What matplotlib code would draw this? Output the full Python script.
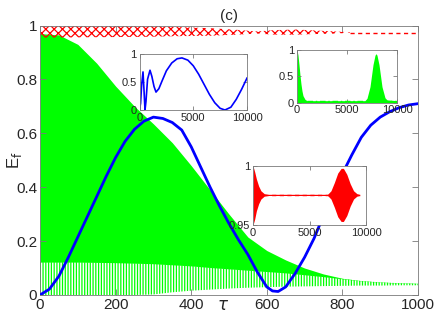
import numpy as np
import matplotlib
matplotlib.use("Agg")
import matplotlib.pyplot as plt

plt.rcParams['font.family'] = ['Liberation Sans', 'DejaVu Sans']
plt.rcParams['hatch.linewidth'] = 0.9

# ---------------- data ----------------
# main: blue curve
tau_blue = [0, 25, 50, 75, 100, 125, 150, 175, 200, 225, 250, 275, 300, 325, 350, 375,
            400, 425, 450, 475, 500, 525, 550, 575, 600, 615, 630, 650, 675, 700, 725,
            750, 775, 800, 825, 850, 875, 900, 925, 950, 975, 1000]
E_blue = [0.0, 0.022, 0.07, 0.14, 0.215, 0.29, 0.365, 0.44, 0.51, 0.57, 0.615, 0.645,
          0.66, 0.655, 0.64, 0.612, 0.55, 0.475, 0.40, 0.33, 0.265, 0.205, 0.15, 0.085,
          0.03, 0.015, 0.013, 0.03, 0.08, 0.14, 0.21, 0.295, 0.375, 0.45, 0.52, 0.585,
          0.63, 0.66, 0.68, 0.695, 0.705, 0.71]

# main: green oscillation envelopes
tau_green = [0, 50, 100, 150, 200, 250, 300, 350, 400, 450, 500, 550, 600, 650, 700,
             750, 800, 850, 900, 950, 1000]
green_top = [0.97, 0.965, 0.93, 0.86, 0.775, 0.70, 0.635, 0.565, 0.48, 0.39, 0.30, 0.215,
             0.165, 0.13, 0.10, 0.078, 0.062, 0.053, 0.048, 0.045, 0.043]
green_mid = [0.122, 0.122, 0.122, 0.121, 0.12, 0.118, 0.116, 0.112, 0.108, 0.102, 0.097,
             0.092, 0.087, 0.082, 0.075, 0.068, 0.060, 0.052, 0.047, 0.044, 0.042]
green_bot = [0.0, 0.0, 0.0, 0.0, 0.0, 0.0, 0.002, 0.01, 0.016, 0.02, 0.024, 0.027, 0.029,
             0.031, 0.032, 0.033, 0.034, 0.035, 0.035, 0.036, 0.036]

# main: red oscillation envelope near 1
tau_red = [0, 280, 350, 450, 520, 575, 620, 680, 720, 780, 820]
red_top = [1.0, 1.0, 0.995, 0.99, 0.984, 0.978, 0.983, 0.985, 0.982, 0.978, 0.975]
red_bot = [0.955, 0.958, 0.96, 0.962, 0.966, 0.970, 0.966, 0.966, 0.968, 0.970, 0.973]
tau_red_dash = [820, 1000]
red_dash = [0.974, 0.974]

# inset 1 (blue)
t_in1 = [0, 100, 200, 326, 420, 512, 600, 750, 977, 1150, 1350, 1535, 1800, 2100, 2500,
         3000, 3500, 3950, 4500, 5000, 5500, 6000, 6500, 7000, 7500, 7950, 8500, 9000,
         9500, 10000]
E_in1 = [0.0, 0.12, 0.45, 0.68, 0.35, 0.0, 0.15, 0.55, 0.71, 0.6, 0.42, 0.32, 0.38, 0.52,
         0.70, 0.84, 0.915, 0.93, 0.89, 0.79, 0.64, 0.46, 0.28, 0.13, 0.03, 0.0, 0.05,
         0.19, 0.37, 0.57]

# inset 2 (green)
t_in2 = [0, 100, 200, 300, 400, 500, 600, 800, 1000, 6800, 7000, 7300, 7600, 7800, 7900,
         8000, 8200, 8500, 8800, 9000, 10000]
E_in2_top = [1.0, 0.9, 0.72, 0.52, 0.35, 0.22, 0.13, 0.06, 0.035, 0.035, 0.08, 0.3, 0.72,
             0.9, 0.93, 0.9, 0.72, 0.3, 0.09, 0.05, 0.035]
in2_base = [0.035, 0.035]
t_in2_base = [1000, 10000]

# inset 3 (red)
t_in3 = [0, 150, 300, 500, 700, 1000, 1300, 6600, 6900, 7200, 7500, 7800, 8000, 8300,
         8600, 8900, 9200, 9400]
E_in3_top = [1.0, 0.995, 0.989, 0.983, 0.979, 0.9765, 0.976, 0.976, 0.979, 0.986, 0.994,
             0.998, 0.998, 0.993, 0.985, 0.979, 0.9765, 0.976]
E_in3_bot = [0.95, 0.955, 0.962, 0.968, 0.972, 0.9745, 0.975, 0.975, 0.972, 0.965, 0.957,
             0.953, 0.953, 0.958, 0.966, 0.972, 0.9745, 0.975]
t_in3_dash = [1000, 9700]
E_in3_dash = [0.9755, 0.9755]

xticks_main = [0, 200, 400, 600, 800, 1000]
yticks_main = [0, 0.2, 0.4, 0.6, 0.8, 1]

# ---------------- styling ----------------
GREEN = '#00ff00'
SPINE = '#7a7a7a'
TXT = '#262626'

fig = plt.figure(figsize=(4.36, 3.27), dpi=100)
ax = fig.add_axes([40 / 436, 1 - 295 / 327, 378 / 436, 269.5 / 327])


def style(a, fs):
    for s in a.spines.values():
        s.set_color(SPINE)
        s.set_linewidth(0.6)
    a.tick_params(direction='in', top=True, right=True, length=3, width=0.6,
                  color=SPINE, labelcolor=TXT, labelsize=fs, pad=2)


# green band
ax.fill_between(tau_green, green_mid, green_top, color=GREEN, linewidth=0, zorder=1)
ax.fill_between(tau_green, green_bot, green_mid, facecolor='none', edgecolor=GREEN,
                hatch='||||||', linewidth=0, zorder=1)
# red band
ax.fill_between(tau_red, red_bot, red_top, facecolor='none', edgecolor='red',
                hatch='xxxx', linewidth=0, zorder=2)
ax.plot(tau_red_dash, red_dash, color='red', lw=1.0, ls=(0, (3, 2.5)), zorder=2)
# blue
ax.plot(tau_blue, E_blue, color='blue', lw=2.0, zorder=3)

ax.set_xlim(0, 1000)
ax.set_ylim(0, 1)
ax.set_xticks(xticks_main)
ax.set_yticks(yticks_main)
ax.set_yticklabels(['0', '0.2', '0.4', '0.6', '0.8', '1'])
style(ax, 11)
ax.tick_params(length=4)
ax.set_title('(c)', fontsize=11, color=TXT, pad=4)
fig.text(223 / 436, 1 - 306 / 327, r'$\tau$', fontsize=12, color=TXT, ha='center', va='center')
fig.text(14 / 436, 1 - 160 / 327, r'E$_{\mathrm{f}}$', fontsize=12, color=TXT, rotation=90,
         ha='center', va='center')

# inset 1
a1 = fig.add_axes([139.5 / 436, 1 - 110 / 327, 107.5 / 436, 56 / 327])
a1.plot(t_in1, E_in1, color='blue', lw=1.2)
a1.set_xlim(0, 10000)
a1.set_ylim(0, 1)
a1.set_xticks([0, 5000, 10000])
a1.set_yticks([0, 0.5, 1])
a1.set_yticklabels(['0', '0.5', '1'])
style(a1, 8)

# inset 2
a2 = fig.add_axes([297 / 436, 1 - 102.5 / 327, 100 / 436, 52.5 / 327])
a2.fill_between(t_in2, 0, E_in2_top, color=GREEN, linewidth=0)
a2.plot(t_in2_base, in2_base, color=GREEN, lw=1.0, ls=(0, (4, 2, 1, 2)))
a2.set_xlim(0, 10000)
a2.set_ylim(0, 1)
a2.set_xticks([0, 5000, 10000])
a2.set_yticks([0, 0.5, 1])
a2.set_yticklabels(['0', '0.5', '1'])
style(a2, 8)

# inset 3
a3 = fig.add_axes([253 / 436, 1 - 225 / 327, 113 / 436, 59 / 327])
a3.fill_between(t_in3, E_in3_bot, E_in3_top, color='red', linewidth=0)
a3.plot(t_in3_dash, E_in3_dash, color='red', lw=1.0, ls=(0, (3, 2.5)))
a3.set_xlim(0, 10000)
a3.set_ylim(0.95, 1)
a3.set_xticks([0, 5000, 10000])
a3.set_yticks([0.95, 1])
a3.set_yticklabels(['0.95', '1'])
style(a3, 8)

fig.savefig('out.png', dpi=100)
